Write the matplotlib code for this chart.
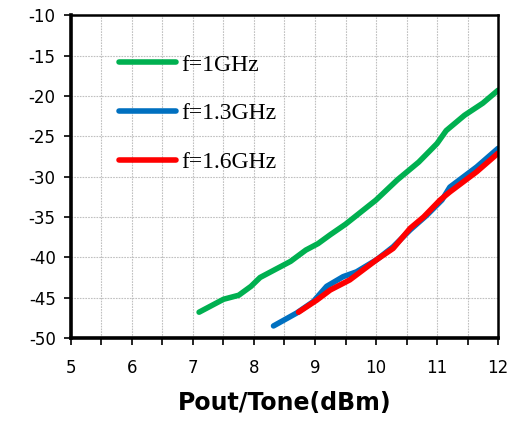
import matplotlib
matplotlib.use("Agg")
import matplotlib.pyplot as plt
from matplotlib.ticker import MultipleLocator

plt.rcParams["axes.unicode_minus"] = False

# Green: f=1GHz
x_1g = [7.1, 7.5, 7.75, 7.95, 8.1, 8.3, 8.6, 8.85, 9.05, 9.25, 9.5, 9.8,
        10.0, 10.35, 10.7, 11.0, 11.15, 11.45, 11.75, 12.0]
y_1g = [-46.8, -45.2, -44.7, -43.6, -42.5, -41.7, -40.5, -39.1, -38.3, -37.2,
        -35.9, -34.1, -32.9, -30.4, -28.2, -25.9, -24.3, -22.4, -20.9, -19.3]

# Blue: f=1.3GHz
x_13g = [8.32, 8.7, 8.97, 9.19, 9.46, 9.68, 10.01, 10.28, 10.56, 10.83,
         11.08, 11.21, 11.65, 12.0]
y_13g = [-48.5, -46.9, -45.5, -43.6, -42.4, -41.8, -40.3, -38.7, -36.6,
         -34.8, -32.9, -31.3, -28.8, -26.5]

# Red: f=1.6GHz
x_16g = [8.73, 9.03, 9.25, 9.57, 10.01, 10.28, 10.56, 10.78, 11.05, 11.21,
         11.65, 12.0]
y_16g = [-46.8, -45.3, -44.05, -42.8, -40.3, -38.9, -36.4, -35.0, -32.9,
         -31.9, -29.4, -27.1]

labels = ["f=1GHz", "f=1.3GHz", "f=1.6GHz"]
colors = ["#00B050", "#0070C0", "#FF0000"]

fig = plt.figure(figsize=(5.14, 4.22), dpi=100)
ax = fig.add_axes([0.138, 0.199, 0.831, 0.765])

for xs, ys, lab, c in zip([x_1g, x_13g, x_16g], [y_1g, y_13g, y_16g], labels, colors):
    ax.plot(xs, ys, color=c, lw=4.0, solid_capstyle="round",
            solid_joinstyle="round", label=lab)

ax.set_xlim(5, 12)
ax.set_ylim(-50, -10)
ax.xaxis.set_major_locator(MultipleLocator(1))
ax.xaxis.set_minor_locator(MultipleLocator(0.5))
ax.yaxis.set_major_locator(MultipleLocator(5))

ax.grid(True, which="both", axis="x", color="#c0c0c0", ls=(0, (1.5, 1)), lw=0.8)
ax.grid(True, which="major", axis="y", color="#c0c0c0", ls=(0, (1.5, 1)), lw=0.8)
ax.set_axisbelow(True)

for s in ["left", "bottom"]:
    ax.spines[s].set_linewidth(2.6)
for s in ["top", "right"]:
    ax.spines[s].set_linewidth(1.8)

ax.tick_params(axis="both", which="both", direction="out", width=1.2, length=5,
               labelsize=12, pad=6)
ax.tick_params(axis="x", which="major", pad=10)

ax.set_xlabel("Pout/Tone(dBm)", fontsize=17, fontweight="bold", labelpad=10)

leg = ax.legend(loc="upper left", bbox_to_anchor=(0.063, 0.945), frameon=False,
                handlelength=2.4, handletextpad=0.25, labelspacing=1.15,
                prop={"family": ["Liberation Serif", "DejaVu Serif"], "size": 17})

fig.savefig("out.png", dpi=100)
